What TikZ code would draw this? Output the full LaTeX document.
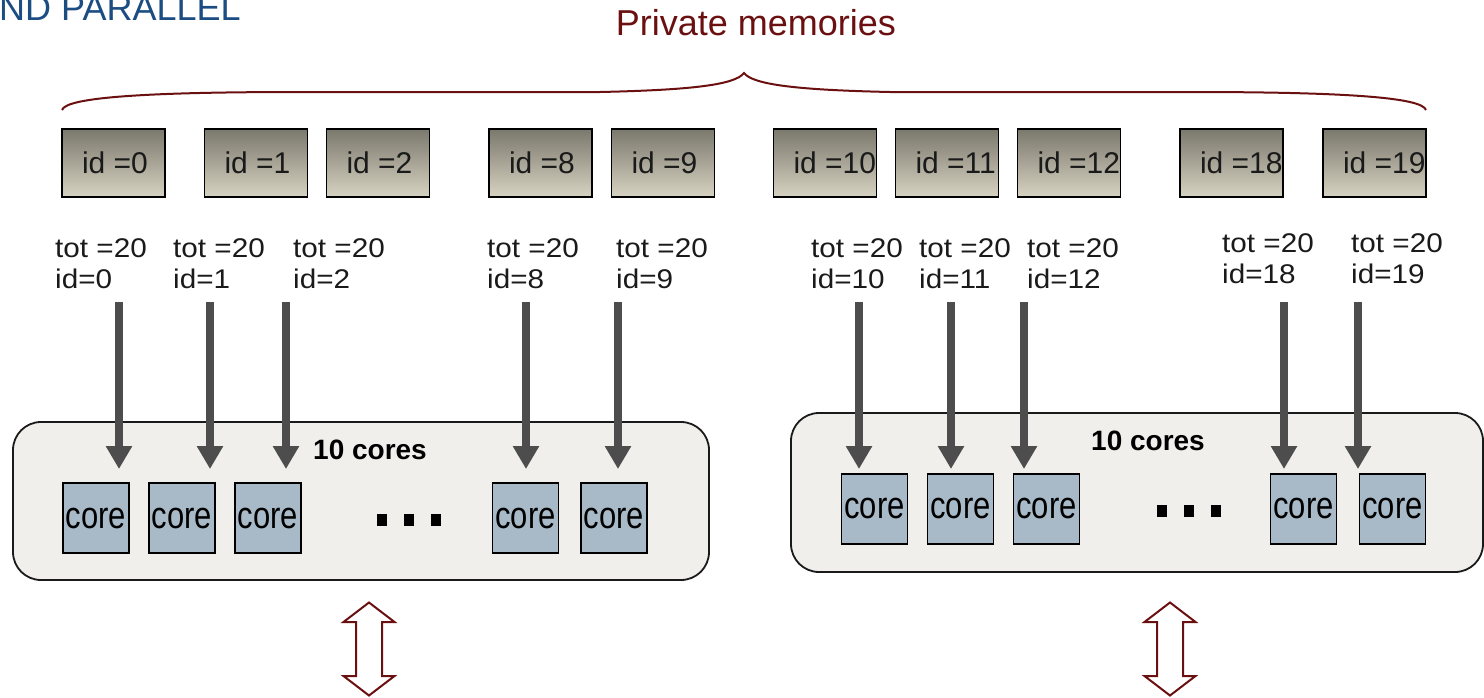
\documentclass[tikz,border=0pt]{standalone}
\usepackage{fontspec}
\setmainfont{Liberation Sans}
\usetikzlibrary{arrows.meta}
\definecolor{memred}{HTML}{6B1010}
\definecolor{titleblue}{HTML}{1B4C82}
\definecolor{memtop}{HTML}{7B786D}
\definecolor{membot}{HTML}{D6D3C2}
\definecolor{corefill}{HTML}{A8BAC8}
\definecolor{nodefill}{HTML}{F0EFEB}
\definecolor{feedgray}{HTML}{4D4D4D}
\definecolor{inkc}{HTML}{1A1A1A}
% two-line thread label, slightly widened
\newcommand\thrlabel[2]{\scalebox{1.1}[1]{#1}\\\scalebox{1.1}[1]{#2}}
\newcommand\memtext[1]{\makebox[63pt][l]{#1}}
\newcommand\coretext{\scalebox{1}[1.22]{core}}
\tikzset{
  dblarrow/.pic={
    \draw[line width=2pt, draw=memred, fill=white, line join=miter]
      (0,-46.5) -- (25.5,-27) -- (13,-27) -- (13,27) -- (25.5,27) -- (0,46.5)
      -- (-25.5,27) -- (-13,27) -- (-13,-27) -- (-25.5,-27) -- cycle;
  }
}
\begin{document}
\begin{tikzpicture}[x=1pt,y=-1pt,
  membox/.style={draw=black, line width=1.6pt, top color=memtop, bottom color=membot,
    minimum width=103pt, minimum height=68pt, inner xsep=20pt, inner ysep=0pt,
    font=\fontsize{30}{36}\selectfont, text=inkc},
  corebox/.style={draw=black, line width=1.6pt, fill=corefill, minimum width=66pt,
    minimum height=70pt, inner sep=0pt, font=\fontsize{31}{36}\selectfont, text=black},
  nodebox/.style={draw=inkc, line width=1.8pt, fill=nodefill, rounded corners=28pt},
  lbl/.style={anchor=north west, inner sep=0pt, align=left, text=inkc,
    font=\fontsize{27}{31}\selectfont},
  feed/.style={draw=feedgray, line width=8.7pt, -{Triangle[width=25pt,length=23pt]}},
  dotsq/.style={fill=black, minimum width=10pt, minimum height=12pt, inner sep=0pt},
  coresttl/.style={font=\bfseries\fontsize{28}{32}\selectfont, text=black, inner sep=0pt}
]
\clip (0,0) rectangle (1484,697);

% heading fragment and brace caption
\node[anchor=base west, inner sep=0pt, text=titleblue, font=\fontsize{36}{40}\selectfont]
  (title) at (-1,20) {ND PARALLEL};
\node[anchor=base, inner sep=0pt, text=memred, font=\fontsize{36}{40}\selectfont]
  (pm) at (756,35) {Private memories};

% curly brace over the private memories
\draw[memred, line width=2pt]
  (62,110) .. controls (66,97) and (150,92) .. (300,92) -- (600,92)
  .. controls (690,90) and (735,85) .. (744,73)
  .. controls (753,85) and (800,90) .. (890,92) -- (1190,92)
  .. controls (1340,92) and (1422,97) .. (1426,110);

% private memory boxes
\foreach \n/\x in {0/113.5, 1/256, 2/378, 8/540.5, 9/663, 10/825, 11/947, 12/1069, 18/1231.5, 19/1374.5}
  \node[membox] (m\n) at (\x,163) {\memtext{id =\n}};

% thread labels
\foreach \n/\x in {0/55, 1/173, 2/293, 8/487, 9/616, 10/811, 11/919, 12/1027}
  \node[lbl] (t\n) at (\x,238) {\thrlabel{tot =20}{id=\n}};
\foreach \n/\x in {18/1222, 19/1351}
  \node[lbl] (t\n) at (\x,233) {\thrlabel{tot =20}{id=\n}};

% processor groups
\node[nodebox, minimum width=696pt, minimum height=158pt] (grpL) at (361,501) {};
\node[nodebox, minimum width=692pt, minimum height=159pt] (grpR) at (1137,492.5) {};
\node[coresttl] (ttlL) at (370,450) {10 cores};
\node[coresttl] (ttlR) at (1148,441) {10 cores};

\foreach \n/\x in {1/95.7, 2/181.7, 3/268, 4/525.5, 5/614}
  \node[corebox] (cl\n) at (\x,518) {\coretext};
\foreach \n/\x in {1/874.5, 2/960.5, 3/1046.5, 4/1303.5, 5/1392.5}
  \node[corebox] (cr\n) at (\x,509) {\coretext};

\foreach \n/\x in {1/382, 2/409, 3/436}
  \node[dotsq] (dl\n) at (\x,520) {};
\foreach \n/\x in {1/1162, 2/1189, 3/1216}
  \node[dotsq] (dr\n) at (\x,511) {};

% threads feeding the cores
\foreach \n/\x in {0/119, 1/210, 2/286, 8/526, 9/618, 10/859, 11/951, 12/1024, 18/1284, 19/1358} {
  \coordinate (s\n) at (\x,302);
  \coordinate (e\n) at (\x,469);
  \draw[feed] (s\n) -- (e\n);
}

% links to the shared level
\pic (busL) at (369,649) {dblarrow};
\pic (busR) at (1170,649) {dblarrow};
\end{tikzpicture}
\end{document}
